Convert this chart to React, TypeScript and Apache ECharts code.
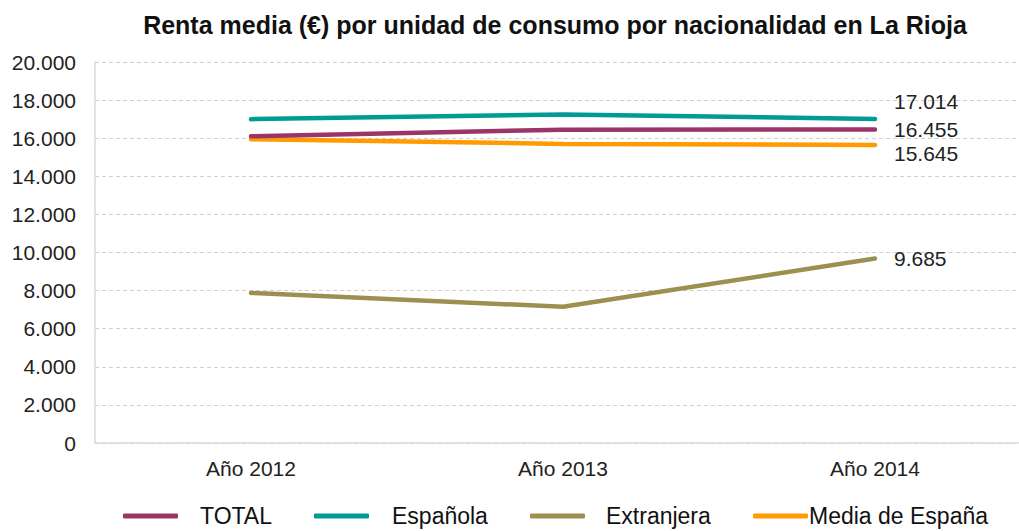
import React, { useEffect, useRef } from "react";
import * as echarts from "echarts";

const categories = ["Año 2012", "Año 2013", "Año 2014"];
const totalValues = [16100, 16450, 16455];
const espanolaValues = [17000, 17250, 17014];
const extranjeraValues = [7880, 7150, 9685];
const mediaEspanaValues = [15950, 15700, 15645];
const yTicks = { min: 0, max: 20000, interval: 2000 };

const FONT = "Liberation Sans";
const fmt = (v: number) => String(Math.round(v)).replace(/\B(?=(\d{3})+(?!\d))/g, ".");

export default function App() {
  const ref = useRef<HTMLDivElement>(null);
  useEffect(() => {
    document.body.style.margin = "0";
    if (!ref.current) return;
    const chart = echarts.init(ref.current, null, { renderer: "svg" });
    const mk = (name: string, data: number[], color: string, offY: number, z: number) => ({
      name,
      type: "line",
      data,
      symbol: "none",
      z,
      lineStyle: { color, width: 4.5, cap: "round" },
      itemStyle: { color },
      endLabel: {
        show: true,
        distance: 19,
        offset: [0, offY],
        fontFamily: FONT,
        fontSize: 21,
        color: "#222",
        formatter: (p: any) => fmt(p.value),
      },
    });
    const legendItem = (name: string, left: number, pad: number) => ({
      data: [name],
      left,
      top: 504,
      padding: 0,
      itemWidth: 55,
      itemHeight: 5,
      icon: "roundRect",
      textStyle: { fontFamily: FONT, fontSize: 23, lineHeight: 24, color: "#111", padding: [0, 0, 0, pad] },
    });
    chart.setOption({
      animation: false,
      title: {
        text: "Renta media (€) por unidad de consumo por nacionalidad en La Rioja",
        left: 550,
        textAlign: "center",
        top: 7,
        textStyle: { fontFamily: FONT, fontSize: 25, fontWeight: "bold", color: "#111" },
      },
      legend: [
        legendItem("TOTAL", 123, 17),
        legendItem("Española", 314, 18),
        legendItem("Extranjera", 530, 16),
        legendItem("Media de España", 753, -4),
      ],
      grid: { left: 95, right: 9, top: 62, bottom: 88, containLabel: false },
      xAxis: {
        type: "category",
        data: categories,
        boundaryGap: true,
        axisLine: { show: true, lineStyle: { color: "#d9d9d9", width: 1.5 } },
        axisTick: { show: false },
        axisLabel: { fontFamily: FONT, fontSize: 21, color: "#222", margin: 15 },
      },
      yAxis: {
        type: "value",
        min: yTicks.min,
        max: yTicks.max,
        interval: yTicks.interval,
        axisLine: { show: true, lineStyle: { color: "#d9d9d9", width: 1.5 } },
        axisTick: { show: false },
        axisLabel: { fontFamily: FONT, fontSize: 21, color: "#222", margin: 19, formatter: fmt },
        splitLine: { show: true, lineStyle: { color: "#cfcfcf", type: [4, 3], width: 1 } },
      },
      series: [
        mk("TOTAL", totalValues, "#9B3467", 0, 3),
        mk("Española", espanolaValues, "#009B94", -17, 4),
        mk("Extranjera", extranjeraValues, "#9C9051", 0, 2),
        mk("Media de España", mediaEspanaValues, "#FF9A00", 9, 1),
      ],
    });
    return () => chart.dispose();
  }, []);
  return (
    <div style={{ width: 1019, height: 531, overflow: "hidden" }}>
      <div ref={ref} style={{ width: 1040, height: 531 }} />
    </div>
  );
}
